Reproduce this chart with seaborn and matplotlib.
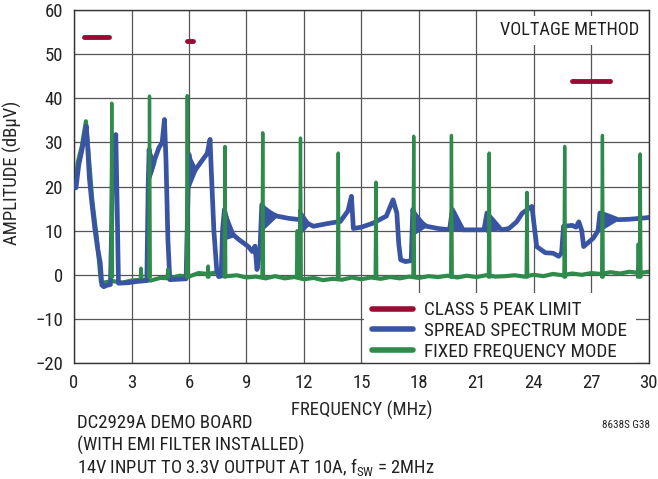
import numpy as np
import pandas as pd
import seaborn as sns
import matplotlib.pyplot as plt
from matplotlib.lines import Line2D

#%% Data (MHz / dBuV)
limit_start = [0.53, 5.9, 26.0]
limit_stop = [1.8, 6.2, 28.0]
limit_level = [54, 53, 44]

spread_freq = [0.10, 0.25, 0.40, 0.55, 0.64, 0.70, 0.80, 0.93, 1.10, 1.25, 1.37, 1.45, 1.55, 1.70, 1.90,
               1.97, 2.02, 2.10, 2.18, 2.25, 2.32, 2.80, 3.30, 3.80, 3.87, 3.92, 4.00, 4.16, 4.43, 4.60,
               4.72, 4.80, 4.90, 5.00, 5.40, 5.85, 5.93, 6.00, 6.08, 6.20, 6.45, 6.70, 6.95, 7.10, 7.18,
               7.30, 7.45, 7.55, 7.68, 7.75, 7.85, 8.00, 8.20, 8.60, 9.10, 9.30, 9.45, 9.55, 9.70, 9.80,
               10.0, 10.6, 11.2, 11.8, 12.5, 13.2, 13.9, 14.3, 14.48, 14.58, 15.0, 15.6, 16.3, 16.65, 16.85,
               16.95, 17.05, 17.3, 17.6, 17.68, 17.9, 18.4, 19.0, 19.6, 19.75, 20.3, 21.4, 21.55, 22.3, 22.7,
               23.1, 23.4, 23.9, 24.05, 24.15, 24.6, 25.0, 25.3, 25.45, 25.55, 26.0, 26.2, 26.35, 26.5, 26.6,
               27.1, 27.35, 27.45, 27.8, 28.4, 29.0, 29.8, 30.0]
spread_amp = [19.7, 25.0, 28.0, 31.5, 33.7, 30.0, 22.0, 16.3, 10.0, 5.5, 2.7, -2.3, -2.7, -2.4, -2.2,
              12.0, 30.7, 26.0, 31.8, 16.0, -1.9, -1.8, -1.5, -1.3, 20.0, 28.4, 23.0, 25.5, 28.8, 30.0,
              35.2, 26.0, 8.0, -1.1, -1.0, -0.9, 15.0, 27.3, 24.0, 23.0, 24.5, 26.0, 27.5, 30.7, 22.0,
              10.0, 1.0, -0.4, -0.3, 10.0, 14.8, 12.0, 9.5, 8.0, 6.4, 5.3, 6.5, 1.2, 5.0, 15.9,
              14.5, 13.3, 12.8, 12.5, 11.0, 11.6, 12.1, 14.5, 17.8, 10.5, 10.8, 11.7, 13.3, 17.0, 14.0,
              7.0, 3.4, 3.0, 3.2, 14.8, 12.5, 11.0, 10.5, 10.2, 14.8, 10.2, 10.2, 14.0, 10.2, 10.5,
              12.0, 14.0, 15.5, 10.0, 6.4, 5.0, 4.9, 4.2, 5.0, 11.0, 11.2, 10.8, 12.0, 10.0, 6.4,
              8.3, 10.0, 14.0, 13.5, 12.5, 12.6, 12.9, 13.0]

# ringing bands on the spread spectrum trace
ring_start = [3.92, 6.00, 7.85, 9.80, 11.75, 17.68, 19.75, 21.55, 27.45]
ring_top = [28.4, 27.3, 14.8, 15.9, 14.8, 14.8, 14.8, 14.0, 14.0]
ring_bottom = [21.0, 19.5, 8.0, 10.0, 9.0, 9.0, 10.0, 9.8, 10.0]
ring_end = [4.25, 6.40, 8.40, 10.60, 12.30, 18.40, 20.30, 22.20, 28.40]
ring_level = [25.5, 23.8, 8.8, 13.3, 11.5, 11.0, 10.2, 10.3, 12.5]

fixed_freq = [0.10, 0.20, 0.40, 0.62, 0.75, 0.95, 1.20, 1.40, 1.5, 2.0, 2.5, 3.0, 3.5, 4.0, 4.5,
              5.0, 5.5, 6.0, 6.5, 7.0, 7.5, 8.0, 8.5, 9.0, 9.5, 10.0, 10.5, 11.0, 11.5, 12.0,
              12.5, 13.0, 13.5, 14.0, 14.5, 15.0, 15.5, 16.0, 16.5, 17.0, 17.5, 18.0, 18.5, 19.0, 19.5,
              20.0, 20.5, 21.0, 21.5, 22.0, 22.5, 23.0, 23.5, 24.0, 24.5, 25.0, 25.5, 26.0, 26.5, 27.0,
              27.5, 28.0, 28.5, 29.0, 29.5, 30.0]
fixed_amp = [22.0, 25.6, 29.0, 34.8, 28.0, 17.0, 8.0, -1.5, -1.8, -1.4, -1.8, -1.3, -1.1, -1.3, -0.7,
             -0.8, -0.2, -0.4, 0.4, 0.2, 0.6, -0.3, -0.1, -0.6, -0.4, -0.8, -0.3, -0.8, -0.5, -1.0,
             -0.7, -1.2, -0.9, -1.1, -0.6, -1.0, -0.6, -0.9, -0.5, -0.8, -0.4, -0.7, -0.3, -0.5, -0.2,
             -0.6, -0.2, -0.5, -0.1, -0.4, -0.3, -0.1, -0.4, 0.0, -0.3, 0.2, -0.1, 0.3, 0.0, 0.4,
             0.2, 0.6, 0.3, 0.7, 0.4, 0.7]

spike_freq = [1.97, 3.94, 5.91, 7.88, 9.85, 11.82, 13.79, 15.76, 17.73, 19.70,
              21.67, 23.64, 25.61, 27.58, 29.55, 3.50, 4.90, 7.00, 11.65, 29.45]
spike_peak = [38.9, 40.5, 40.6, 29.1, 32.2, 31.0, 27.6, 21.0, 31.4, 31.6,
              27.6, 18.7, 29.1, 31.6, 27.4, 1.5, 1.3, 2.0, 10.0, 7.0]

#%% Build tables for seaborn
limit_df = pd.DataFrame({
    'f': [v for a, b in zip(limit_start, limit_stop) for v in (a, b)],
    'dB': [v for l in limit_level for v in (l, l)],
    'seg': [i for i in range(len(limit_level)) for _ in range(2)],
})
spread_df = pd.DataFrame({'f': spread_freq, 'dB': spread_amp})
fixed_df = pd.DataFrame({'f': fixed_freq, 'dB': fixed_amp})
spike_df = pd.DataFrame({
    'f': [v for s in spike_freq for v in (s - 0.04, s, s + 0.04)],
    'dB': [v for p in spike_peak for v in (-0.5, p, -0.5)],
    'seg': [i for i in range(len(spike_freq)) for _ in range(3)],
})

red = '#9a0a32'
blue = '#3a54a4'
green = '#2e8b4b'

#%% Plot
sns.set_style('white')
plt.rcParams['font.family'] = ['Roboto Condensed', 'DejaVu Sans']
plt.rcParams['font.stretch'] = 'condensed'
plt.rcParams['mathtext.fontset'] = 'custom'
plt.rcParams['mathtext.rm'] = 'Roboto Condensed'
plt.rcParams['mathtext.it'] = 'Roboto Condensed'
plt.rcParams['text.color'] = '#222222'

fig, ax = plt.subplots(figsize=(6.58, 4.79), dpi=100)
fig.subplots_adjust(left=0.1125, right=0.986, top=0.979, bottom=0.242)

sns.lineplot(data=fixed_df, x='f', y='dB', color=green, lw=3.0, estimator=None, sort=False, ax=ax, zorder=2)
sns.lineplot(data=spread_df, x='f', y='dB', color=blue, lw=3.4, estimator=None, sort=False, ax=ax, zorder=3)
for i in range(len(ring_start)):
    ax.fill([ring_start[i], ring_start[i], ring_end[i]],
            [ring_top[i], ring_bottom[i], ring_level[i]], color=blue, lw=1.5, ec=blue, zorder=3)
sns.lineplot(data=spike_df, x='f', y='dB', units='seg', color=green, lw=2.4, estimator=None, sort=False, ax=ax, zorder=4)
sns.lineplot(data=limit_df, x='f', y='dB', units='seg', color=red, lw=3.5, estimator=None, sort=False, ax=ax, zorder=4)

ax.set_xlim(0, 30)
ax.set_ylim(-20, 60)
ax.set_xticks(range(0, 31, 3))
ax.set_yticks(range(-20, 61, 10))
ax.set_yticklabels([str(v).replace('-', '\u2212') for v in range(-20, 61, 10)])
ax.grid(True, color='#555555', lw=0.9)
ax.set_axisbelow(True)
ax.tick_params(length=0, pad=8, labelsize=13.5, colors='#222222')
for s in ax.spines.values():
    s.set_color('#333333')
    s.set_linewidth(1.0)

ax.set_xlabel('FREQUENCY (MHz)', fontsize=13.5)
ax.xaxis.set_label_coords(0.5, -0.108)
ax.set_ylabel('AMPLITUDE (dB\u00b5V)', fontsize=13.5)
ax.yaxis.set_label_coords(-0.09, 0.54)

ax.text(0.984, 0.943, 'VOLTAGE METHOD', transform=ax.transAxes, ha='right', va='center',
        fontsize=13.2, zorder=6, bbox=dict(fc='white', ec='none', pad=4))

handles = [Line2D([], [], color=red, lw=4), Line2D([], [], color=blue, lw=4), Line2D([], [], color=green, lw=4)]
labels = ['CLASS 5 PEAK LIMIT', 'SPREAD SPECTRUM MODE', 'FIXED FREQUENCY MODE']
leg = ax.legend(handles, labels, loc='lower left', bbox_to_anchor=(0.504, -0.018), frameon=True, fancybox=False,
                framealpha=1, edgecolor='none', borderaxespad=0, handlelength=2.1, handletextpad=0.6,
                labelspacing=0.14, borderpad=0.45, fontsize=13.8)
leg.set_zorder(2.2)

fig.text(0.117, 1 - 423 / 479, 'DC2929A DEMO BOARD', fontsize=13.5, va='center')
fig.text(0.117, 1 - 445 / 479, '(WITH EMI FILTER INSTALLED)', fontsize=13.5, va='center')
fig.text(0.117, 1 - 467 / 479, r'14V INPUT TO 3.3V OUTPUT AT 10A, f$_{\mathrm{SW}}$ = 2MHz', fontsize=13.3, va='center')
fig.text(0.988, 1 - 425 / 479, '8638S G38', fontsize=8, ha='right', va='center')

fig.savefig('out.png', dpi=100)
